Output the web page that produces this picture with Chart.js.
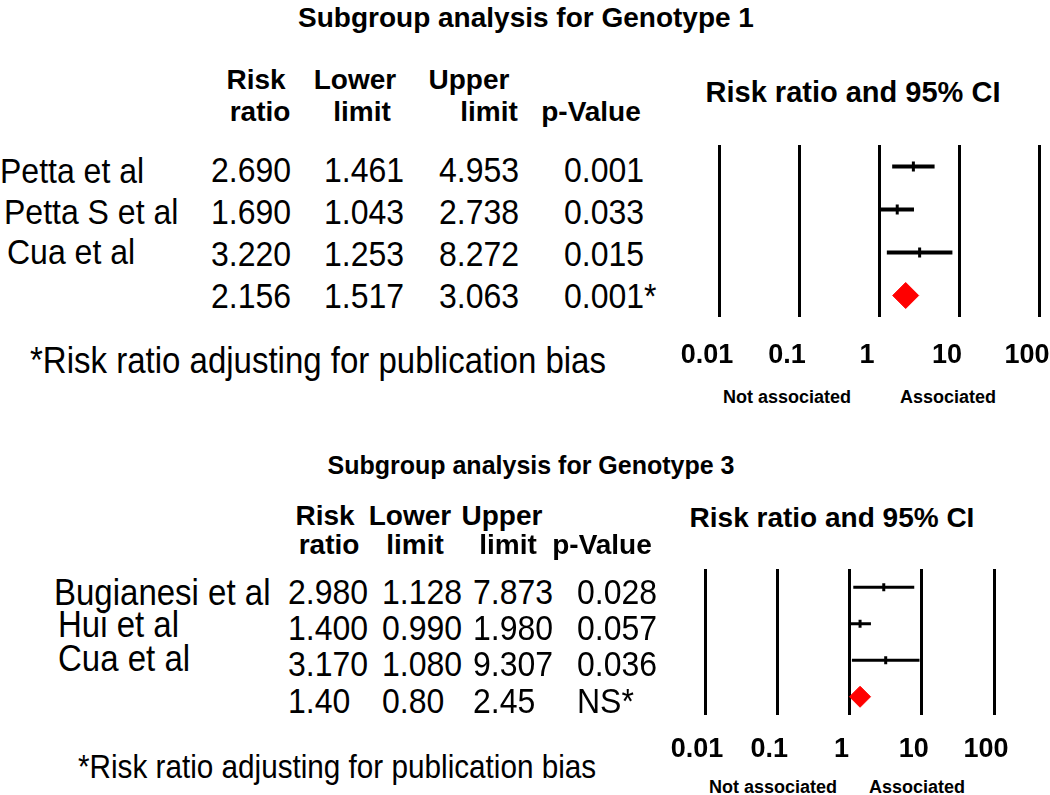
<!DOCTYPE html>
<html lang="en">
  <head>
    <title>Subgroup analysis</title>
    <meta charset="utf-8">
    <script src="https://cdn.jsdelivr.net/npm/chart.js@4.4.1/dist/chart.umd.min.js"></script>
    <style>
      html, body { margin: 0; padding: 0; background: #fff; overflow: hidden; }
      body { width: 1050px; height: 795px; position: relative; font-family: "Liberation Sans", Arial, sans-serif; color: #000; }
      .t { position: absolute; white-space: nowrap; line-height: 1; }
      .r { transform: scaleY(1.1); }
      .b { font-weight: bold; }
      canvas { position: absolute; }
    </style>
  </head>
  <body>
    <canvas id="g1-chart" width="425" height="257" style="left:665px; top:120px"></canvas>
    <canvas id="g3-chart" width="400" height="235" style="left:650px; top:540px"></canvas>
    <script>
      // axis
      var tick_values = [0.01, 0.1, 1, 10, 100];
      var tick_labels = ["0.01", "0.1", "1", "10", "100"];

      // Genotype 1 (last row = pooled estimate)
      var g1_names = ["Petta et al", "Petta S et al", "Cua et al"];
      var g1_rr    = [2.690, 1.690, 3.220, 2.156];
      var g1_lower = [1.461, 1.043, 1.253, 1.517];
      var g1_upper = [4.953, 2.738, 8.272, 3.063];
      var g1_p     = ["0.001", "0.033", "0.015", "0.001*"];
      var g1_dec   = [3, 3, 3, 3];

      // Genotype 3 (last row = pooled estimate)
      var g3_names = ["Bugianesi et al", "Hui et al", "Cua et al"];
      var g3_rr    = [2.980, 1.400, 3.170, 1.40];
      var g3_lower = [1.128, 0.990, 1.080, 0.80];
      var g3_upper = [7.873, 1.980, 9.307, 2.45];
      var g3_p     = ["0.028", "0.057", "0.036", "NS*"];
      var g3_dec   = [3, 3, 3, 2];

      var footnote = "*Risk ratio adjusting for publication bias";

      function put(text, x, y, size, bold, align) {
        var d = document.createElement("div");
        d.className = "t" + (bold ? " b" : " r");
        d.textContent = text;
        d.style.fontSize = size + "px";
        d.style.top = (y - size / 2) + "px";
        d.style.left = x + "px";
        if (align === "center") d.style.transform = "translateX(-50%)";
        document.body.appendChild(d);
      }

      function put_table(lay, names, rr, lower, upper, p, dec) {
        var cols = [rr, lower, upper];
        names.forEach(function (n, i) {
          put(n, lay.name_x[i], lay.name_y[i], lay.name_size, false);
        });
        for (var r = 0; r < rr.length; r++) {
          for (var c = 0; c < 3; c++) {
            put(cols[c][r].toFixed(dec[r]), lay.col_x[c], lay.row_y[r], lay.num_size, false);
          }
          put(p[r], lay.col_x[3], lay.row_y[r], lay.num_size, false);
        }
        lay.heads.forEach(function (h) { put(h[0], h[1], h[2], 28, true, "center"); });
      }

      function forest_chart(canvas, names, rr, lower, upper, st) {
        var labels = names.concat(["Overall"]);
        var datasets = [];
        names.forEach(function (n, i) {
          datasets.push({
            data: [{x: lower[i], y: n}, {x: upper[i], y: n}],
            showLine: true, borderColor: "#000", borderWidth: st.ci_width,
            borderCapStyle: "butt", pointRadius: 0
          });
        });
        datasets.push({
          data: names.map(function (n, i) { return {x: rr[i], y: n}; }),
          pointStyle: "line", rotation: 90, pointRadius: st.tick_size,
          borderColor: "#000", borderWidth: 3
        });
        datasets.push({
          data: [{x: rr[names.length], y: "Overall"}],
          pointStyle: "rectRot", pointRadius: st.diamond,
          backgroundColor: "#ff0000", borderColor: "#ff0000", borderWidth: 1
        });
        return new Chart(document.getElementById(canvas), {
          type: "scatter",
          data: { datasets: datasets },
          options: {
            responsive: false,
            animation: false,
            events: [],
            layout: { padding: st.padding },
            plugins: { legend: { display: false }, tooltip: { enabled: false } },
            scales: {
              x: {
                type: "logarithmic", min: tick_values[0], max: tick_values[tick_values.length - 1],
                afterBuildTicks: function (s) { s.ticks = tick_values.map(function (v) { return {value: v}; }); },
                afterFit: function (s) { s.height = 60; },
                grid: { color: "#000", lineWidth: 3, drawTicks: false },
                border: { display: false },
                ticks: {
                  padding: st.tick_pad, labelOffset: st.label_offset, color: "#000",
                  autoSkip: false, maxRotation: 0,
                  font: { family: "Liberation Sans", size: 27, weight: "bold" },
                  callback: function (v, i) { return tick_labels[i]; }
                }
              },
              y: { type: "category", labels: labels, offset: true, display: false }
            }
          }
        });
      }

      // top panel
      put("Subgroup analysis for Genotype 1", 526, 18, 28, true, "center");
      put("Risk ratio and 95% CI", 853, 92, 29, true, "center");
      put_table({
        name_x: [0, 4, 7], name_y: [171, 212, 252], name_size: 32,
        col_x: [211, 324, 439, 564], row_y: [170, 212, 254, 296], num_size: 32,
        heads: [["Risk", 256, 80], ["ratio", 260, 112], ["Lower", 355, 80], ["limit", 362, 112],
                ["Upper", 469, 80], ["limit", 489, 112], ["p-Value", 591, 112]]
      }, g1_names, g1_rr, g1_lower, g1_upper, g1_p, g1_dec);
      put(footnote, 30, 360, 33, false);
      put("Not associated", 787, 397, 18, true, "center");
      put("Associated", 948, 397, 18, true, "center");

      // bottom panel
      put("Subgroup analysis for Genotype 3", 531, 465, 25, true, "center");
      put("Risk ratio and 95% CI", 832, 518, 28, true, "center");
      put_table({
        name_x: [54, 58, 58], name_y: [592, 624, 658], name_size: 33,
        col_x: [288, 382, 473, 577], row_y: [592, 628, 664, 701], num_size: 32,
        heads: [["Risk", 325, 516], ["ratio", 329, 545], ["Lower", 410, 516], ["limit", 415, 545],
                ["Upper", 502, 516], ["limit", 508, 545], ["p-Value", 602, 545]]
      }, g3_names, g3_rr, g3_lower, g3_upper, g3_p, g3_dec);
      put(footnote, 78, 767, 29.7, false);
      put("Not associated", 773, 787, 18, true, "center");
      put("Associated", 917, 787, 18, true, "center");

      var g1_chart = forest_chart("g1-chart", g1_names, g1_rr, g1_lower, g1_upper, {
        ci_width: 4, tick_size: 5, diamond: 13,
        padding: {left: 54, right: 51, top: 25, bottom: 0}, tick_pad: 22, label_offset: -12
      });
      var g3_chart = forest_chart("g3-chart", g3_names, g3_rr, g3_lower, g3_upper, {
        ci_width: 3, tick_size: 4, diamond: 10.5,
        padding: {left: 55, right: 56, top: 29, bottom: 0}, tick_pad: 18, label_offset: -8
      });
    </script>
  </body>
</html>
